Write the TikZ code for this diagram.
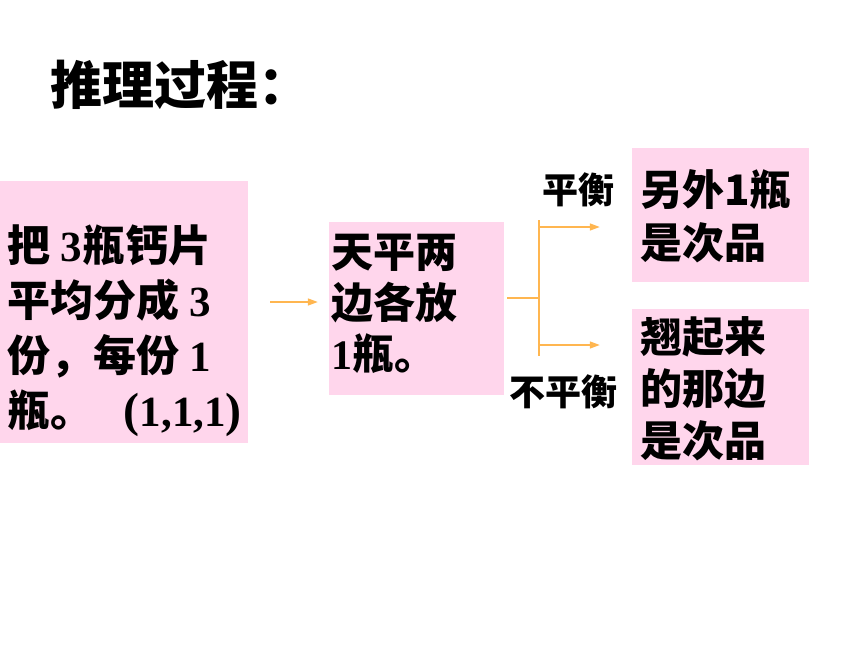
\documentclass[tikz,border=0pt]{standalone}
\usepackage{fontspec}
\setmainfont{Noto Sans CJK SC}
\newfontfamily\numfont{Liberation Serif}
\newcommand{\numtxt}[1]{{\numfont\bfseries #1}}
\newcommand{\bigparen}[1]{{\numfont\bfseries\fontsize{48pt}{55pt}\selectfont #1}}
\definecolor{boxpink}{RGB}{255,214,236}
\definecolor{arroworange}{RGB}{255,182,80}
\usetikzlibrary{arrows.meta}

\begin{document}
\begin{tikzpicture}[x=1pt, y=-1pt,
  box/.style = {rectangle, fill=boxpink, inner sep=0pt},
  txt/.style = {anchor=north west, inner sep=0pt, align=left, font=\bfseries\fontsize{42pt}{52pt}\selectfont},
  lbl/.style = {inner sep=0pt, font=\bfseries\fontsize{36pt}{40pt}\selectfont},
  link/.style = {draw=arroworange, line width=1.5pt},
  arr/.style = {link, -{Triangle[length=10pt, width=7pt]}},
  ]
  \useasboundingbox (0,0) rectangle (860,645);
  \node[anchor=north west, inner sep=0pt, font=\bfseries\fontsize{52pt}{60pt}\selectfont] (head) at (50,60) {推理过程：};

  \node[box, minimum width=248pt, minimum height=262pt] (split) at (124,312) {};
  \node[box, minimum width=175pt, minimum height=173pt] (weigh) at (416.5,308.5) {};
  \node[box, minimum width=177pt, minimum height=134pt] (other) at (720.5,215) {};
  \node[box, minimum width=177pt, minimum height=156pt] (light) at (720.5,387) {};

  \node[txt, font=\bfseries\fontsize{43pt}{55pt}\selectfont] at ([xshift=8pt, yshift=-44pt]split.north west)
    {把 \numtxt{3}瓶钙片\\平均分成 \numtxt{3}\\份，每份 \numtxt{1}\\瓶。\hspace{30pt}\bigparen{(}\numtxt{1,1,1}\bigparen{)}};
  \node[txt, font=\bfseries\fontsize{42pt}{51pt}\selectfont] at ([xshift=2pt, yshift=-12pt]weigh.north west)
    {天平两\\边各放\\\numtxt{1}瓶。};
  \node[txt, font=\bfseries\fontsize{42pt}{53pt}\selectfont] at ([xshift=8pt, yshift=-22pt]other.north west)
    {另外1瓶\\是次品};
  \node[txt, font=\bfseries\fontsize{42pt}{52pt}\selectfont] at ([xshift=8pt, yshift=-8pt]light.north west)
    {翘起来\\的那边\\是次品};

  \node[lbl] (even) at (578,190) {平衡};
  \node[lbl] (uneven) at (563,392) {不平衡};

  \coordinate (fork) at (539,298);
  \draw[arr] ([xshift=22pt, yshift=10pt]split.east) -- ([xshift=-11pt, yshift=10pt]split.east -| weigh.west);
  \draw[link] ([xshift=3pt]weigh.east |- fork) -- (fork);
  \draw[link] (fork |- 0,220) -- (fork |- 0,356);
  \draw[arr] (fork |- 0,227) -- ([xshift=-32pt]other.west |- 0,227);
  \draw[arr] (fork |- 0,345) -- ([xshift=-32pt]light.west |- 0,345);
\end{tikzpicture}
\end{document}
